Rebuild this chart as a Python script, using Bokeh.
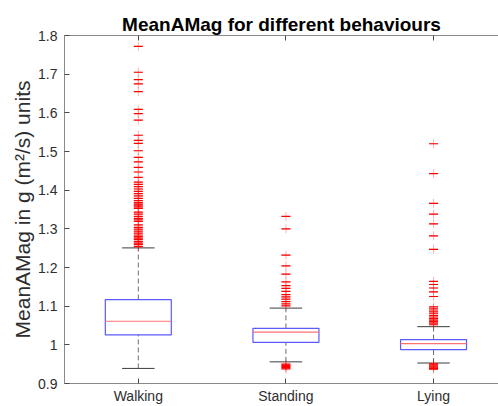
from bokeh.plotting import figure
from bokeh.models import FixedTicker, CustomJSTickFormatter, LinearAxis, Range1d, ColumnDataSource
from bokeh.embed import file_html
from bokeh.resources import INLINE

# ---- data ----
categories = ["Walking", "Standing", "Lying"]
positions = [1, 2, 3]
lower_whisker = [0.939, 0.956, 0.953]
q1 = [1.026, 1.0065, 0.9877]
median = [1.061, 1.033, 1.003]
q3 = [1.117, 1.0426, 1.0135]
upper_whisker = [1.2507, 1.095, 1.047]

walking_outliers = [1.772, 1.705, 1.686, 1.675, 1.655, 1.609, 1.598, 1.581, 1.542,
                    1.529, 1.521, 1.502, 1.485, 1.473, 1.459, 1.447, 1.433,
                    1.421, 1.415, 1.409, 1.403, 1.397, 1.391, 1.385, 1.379, 1.373,
                    1.368, 1.364, 1.361, 1.357, 1.353, 1.343, 1.338, 1.332, 1.327,
                    1.323, 1.319, 1.310, 1.304, 1.299, 1.294, 1.289, 1.284, 1.280,
                    1.276, 1.272, 1.267, 1.263, 1.259, 1.254]
standing_outliers = [1.332, 1.300, 1.232, 1.204, 1.183, 1.163, 1.153, 1.146, 1.138,
                     1.130, 1.124, 1.118, 1.112, 1.106, 1.101,
                     0.950, 0.947, 0.944, 0.941, 0.938]
lying_outliers = [1.520, 1.443, 1.366, 1.338, 1.313, 1.282, 1.247, 1.164, 1.156,
                  1.147, 1.137, 1.125, 1.098, 1.093, 1.087, 1.082, 1.076, 1.072,
                  1.068, 1.064, 1.060, 1.056, 1.052,
                  0.951, 0.948, 0.945, 0.942, 0.939, 0.937]

y_ticks = [0.9, 1.0, 1.1, 1.2, 1.3, 1.4, 1.5, 1.6, 1.7, 1.8]

# ---- styles ----
BOX_W = 0.447
CAP_W = 0.22
FONT = "Liberation Sans"

p = figure(width=498, height=406, output_backend="svg", toolbar_location=None,
           x_range=Range1d(0.5, 3.44), y_range=Range1d(0.9, 1.8),
           min_border_left=64, min_border_right=0, min_border_top=35, min_border_bottom=22,
           title="MeanAMag for different behaviours")
p.outline_line_color = None
p.grid.visible = False
p.background_fill_color = "white"
p.border_fill_color = "white"

p.title.text_font = FONT
p.title.text_font_size = "19px"
p.title.text_font_style = "bold"
p.title.text_color = "#000000"
p.title.align = "center"
p.title.standoff = 2

src = ColumnDataSource(dict(x=positions, lw=lower_whisker, q1=q1, med=median, q3=q3, uw=upper_whisker,
                            xl=[v - BOX_W / 2 for v in positions], xr=[v + BOX_W / 2 for v in positions],
                            cl=[v - CAP_W / 2 for v in positions], cr=[v + CAP_W / 2 for v in positions]))

# whiskers (dashed)
p.segment(x0="x", y0="q3", x1="x", y1="uw", source=src, line_color="#6e6e6e", line_width=1, line_dash="5 3")
p.segment(x0="x", y0="lw", x1="x", y1="q1", source=src, line_color="#6e6e6e", line_width=1, line_dash="5 3")
# caps
p.segment(x0="cl", y0="uw", x1="cr", y1="uw", source=src, line_color="#3c3c3c", line_width=1)
p.segment(x0="cl", y0="lw", x1="cr", y1="lw", source=src, line_color="#3c3c3c", line_width=1)
# boxes
p.quad(left="xl", right="xr", bottom="q1", top="q3", source=src, fill_color=None,
       line_color="#5a5aff", line_width=1.2)
# medians
p.segment(x0="xl", y0="med", x1="xr", y1="med", source=src, line_color="#ff7070", line_width=1.2)

# outliers
ox, oy = [], []
for pos, vals in zip(positions, [walking_outliers, standing_outliers, lying_outliers]):
    ox += [pos] * len(vals)
    oy += vals
osrc = ColumnDataSource(dict(x=ox, y=oy))
p.scatter(x="x", y="y", source=osrc, marker="cross", size=9, line_color="#ff0000", line_alpha=0.3, line_width=1)
p.scatter(x="x", y="y", source=osrc, marker="dash", size=9, line_color="#ff0000", line_width=1.2)

# axes
AX_COL = "#8a8a8a"
TICK_COL = "#4a4a4a"
LBL_COL = "#2e2e2e"

ya = p.yaxis[0]
ya.ticker = FixedTicker(ticks=y_ticks)
ya.formatter = CustomJSTickFormatter(code="return (Math.round(tick*10)/10).toString();")
ya.major_tick_in = 5
ya.major_tick_out = 0
ya.minor_tick_line_color = None
ya.axis_line_color = AX_COL
ya.major_tick_line_color = TICK_COL
ya.major_label_text_font = FONT
ya.major_label_text_font_size = "14px"
ya.major_label_text_color = LBL_COL
ya.major_label_standoff = 7
ya.axis_label = "MeanAMag in g (m²/s) units"
ya.axis_label_text_font = FONT
ya.axis_label_text_font_size = "21px"
ya.axis_label_text_font_style = "normal"
ya.axis_label_text_color = LBL_COL
ya.axis_label_standoff = 1

xa = p.xaxis[0]
xa.ticker = FixedTicker(ticks=positions)
xa.formatter = CustomJSTickFormatter(args=dict(names=categories),
                                     code="const i = Math.round(tick) - 1; return (i >= 0 && i < names.length) ? names[i] : '';")
xa.major_tick_in = 5
xa.major_tick_out = 0
xa.minor_tick_line_color = None
xa.axis_line_color = AX_COL
xa.major_tick_line_color = TICK_COL
xa.major_label_text_font = FONT
xa.major_label_text_font_size = "14px"
xa.major_label_text_color = LBL_COL
xa.major_label_standoff = 4

top = LinearAxis(ticker=FixedTicker(ticks=positions),
                 formatter=CustomJSTickFormatter(code="return '';"))
top.major_tick_in = 5
top.major_tick_out = 0
top.minor_tick_line_color = None
top.axis_line_color = AX_COL
top.major_tick_line_color = TICK_COL
top.major_label_text_font_size = "1px"
top.major_label_standoff = 0
p.add_layout(top, "above")

open("out.html", "w").write(file_html(p, INLINE))
